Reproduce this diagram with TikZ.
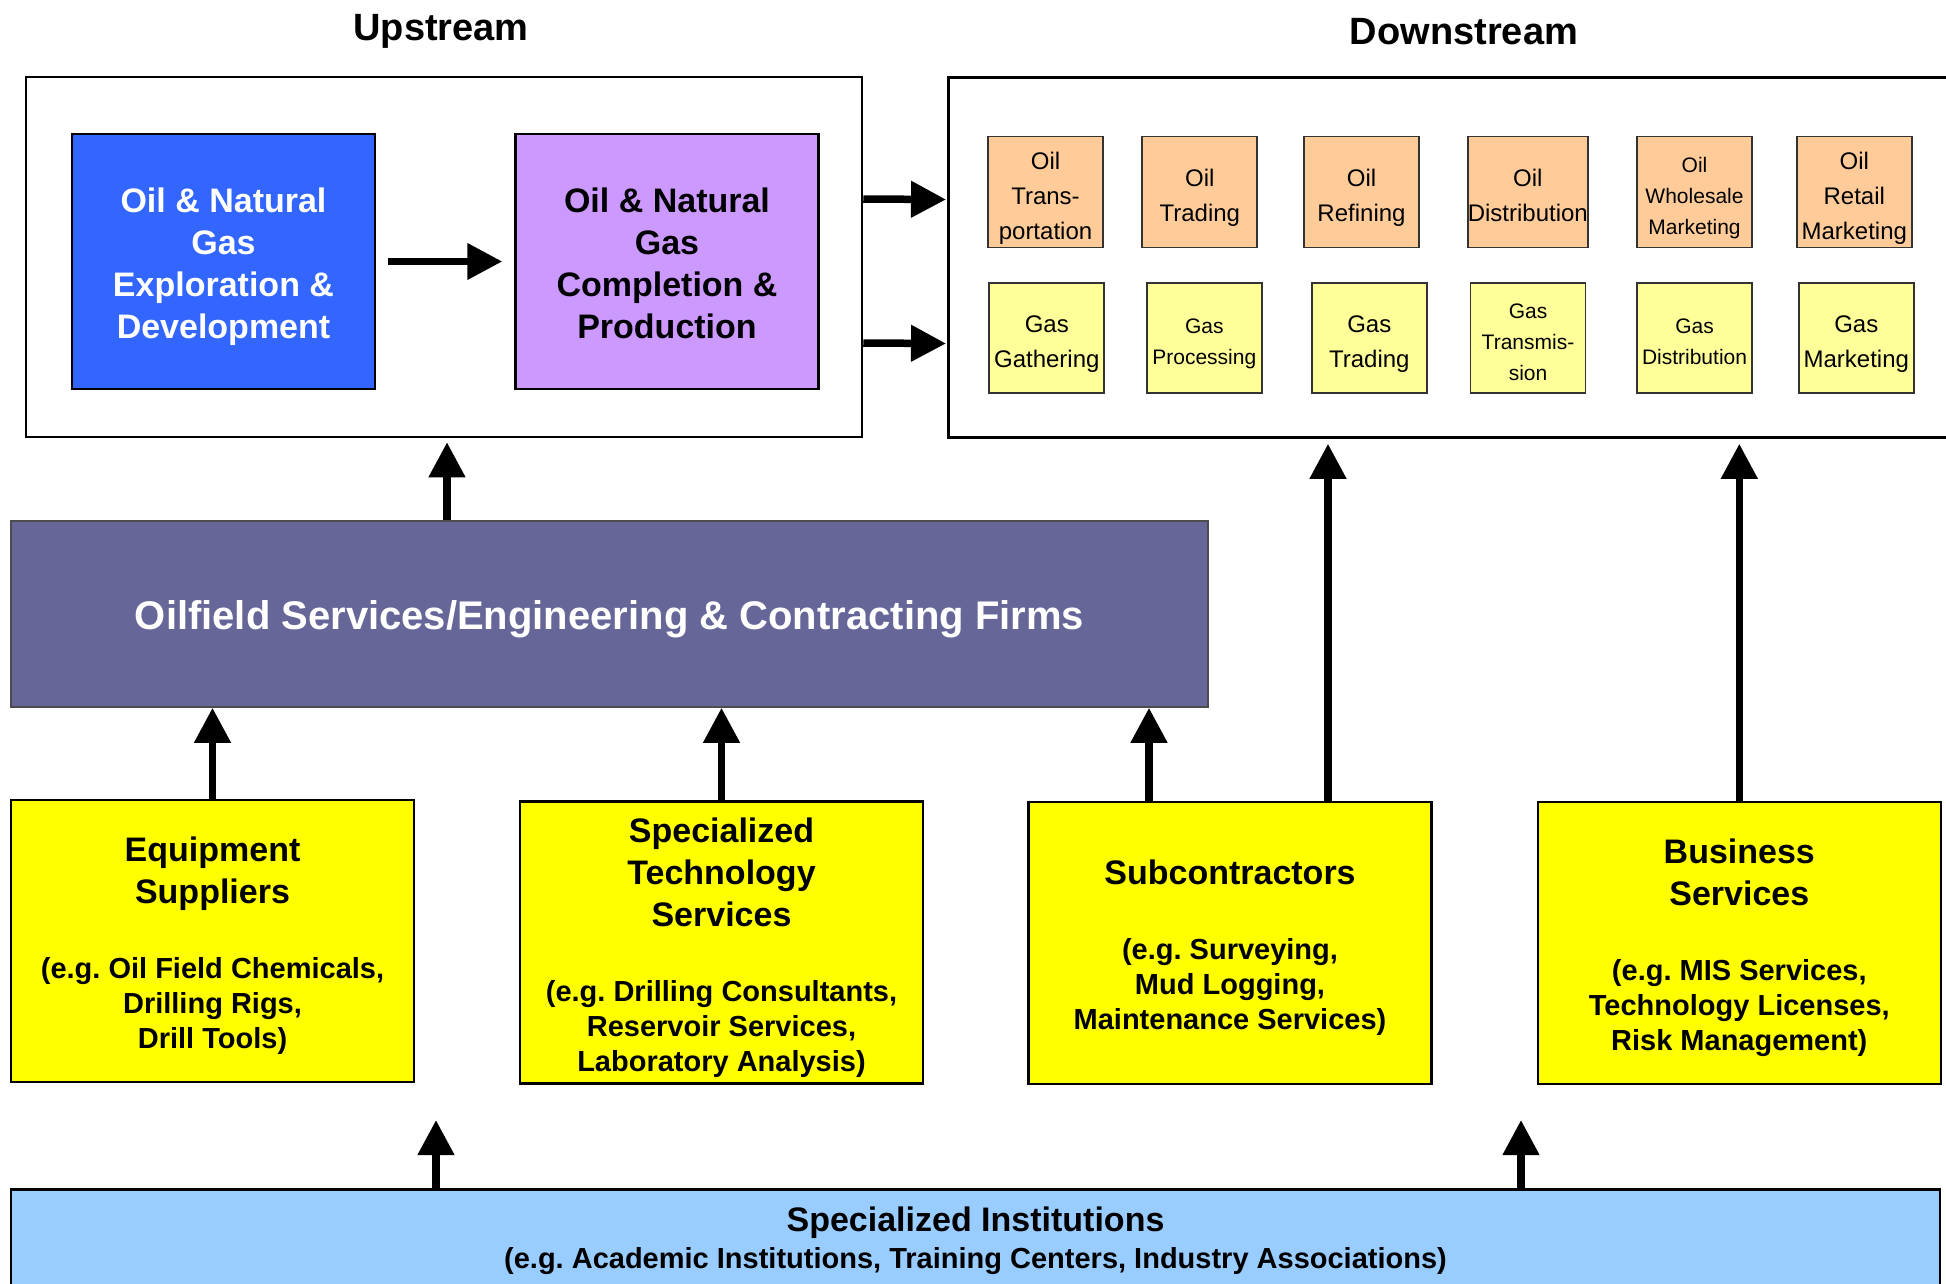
\documentclass[tikz,border=0pt]{standalone}
\usepackage{fontspec}
\setmainfont{Liberation Sans}
\usetikzlibrary{arrows.meta,calc}
\frenchspacing
\definecolor{deepblue}{RGB}{51,102,255}
\definecolor{lilac}{RGB}{204,153,255}
\definecolor{peach}{RGB}{255,204,153}
\definecolor{paleyellow}{RGB}{255,255,153}
\definecolor{brightyellow}{RGB}{255,255,0}
\definecolor{slate}{RGB}{102,102,153}
\definecolor{skyblue}{RGB}{153,204,255}
\newcommand{\fst}{\rule[-0.212em]{0pt}{\baselineskip}}
\newcommand{\boxhead}[1]{{\fontsize{34}{42}\selectfont #1}}
\tikzset{
  frame/.style={draw=black,line width=2.5pt,inner sep=0pt},
  stage/.style={draw=black,line width=2.5pt,inner sep=0pt,minimum width=303pt,minimum height=255pt,align=center,font=\fontsize{34}{42}\selectfont\bfseries},
  oilbox/.style={draw=black!80,line width=1.8pt,fill=peach,inner sep=0pt,minimum width=115pt,minimum height=111pt,align=center,font=\fontsize{24}{35}\selectfont},
  gasbox/.style={oilbox,fill=paleyellow,minimum height=110pt},
  smaller/.style={font=\fontsize{21}{31}\selectfont},
  supplier/.style={draw=black,line width=2.5pt,fill=brightyellow,inner sep=0pt,minimum width=403pt,minimum height=282pt,align=center,font=\fontsize{29}{35}\selectfont\bfseries},
  heading/.style={font=\fontsize{38}{46}\selectfont\bfseries},
  arr/.style={-{Triangle[length=35pt,width=35pt]},line width=7.5pt}
}

\begin{document}
\begin{tikzpicture}[x=1pt,y=-1pt]
\useasboundingbox (0,0) rectangle (1946,1283);
\node[heading] (uptitle) at (441,31) {Upstream};
\node[heading] (downtitle) at (1464,32) {Downstream};
\node[frame,minimum width=836pt,minimum height=360pt] (up) at (444,257) {};
\node[frame,anchor=west,minimum width=1043pt,minimum height=360pt] (down) at (947,257.5) {};
\node[stage,fill=deepblue,text=white] (explore) at (223.5,261.5) {\fst Oil \& Natural\\Gas\\Exploration \&\\\fst Development};
\node[stage,fill=lilac] (produce) at (667,261.5) {\fst Oil \& Natural\\Gas\\Completion \&\\\fst Production};
\node[oilbox] (oil1) at (1045.5,192) {\fst Oil\\Trans-\\\fst portation};
\node[oilbox] (oil2) at (1199.8,192) {\fst Oil\\\fst Trading};
\node[oilbox] (oil3) at (1361.5,192) {\fst Oil\\\fst Refining};
\node[oilbox] (oil4) at (1527.8,192) {\fst Oil\\\fst Distribution};
\node[oilbox,smaller] (oil5) at (1694.5,192) {\fst Oil\\Wholesale\\\fst Marketing};
\node[oilbox] (oil6) at (1854.3,192) {\fst Oil\\Retail\\\fst Marketing};
\node[gasbox] (gas1) at (1046.8,338) {\fst Gas\\\fst Gathering};
\node[gasbox,smaller] (gas2) at (1204.3,338) {\fst Gas\\\fst Processing};
\node[gasbox] (gas3) at (1369.3,338) {\fst Gas\\\fst Trading};
\node[gasbox,smaller] (gas4) at (1528,338) {\fst Gas\\Transmis-\\\fst sion};
\node[gasbox,smaller] (gas5) at (1694.5,338) {\fst Gas\\\fst Distribution};
\node[gasbox] (gas6) at (1856.3,338) {\fst Gas\\\fst Marketing};
\node[draw=black!70,line width=1.5pt,fill=slate,text=white,minimum width=1197pt,minimum height=186pt,font=\fontsize{40}{48}\selectfont\bfseries] (svc) at (609.5,614) {\fst Oilfield Services/Engineering \& Contracting Firms};
\node[supplier] (equip) at (212.5,941) {\boxhead{\fst Equipment}\\[7pt]\boxhead{Suppliers}\\[40pt](e.g. Oil Field Chemicals,\\Drilling Rigs,\\\fst Drill Tools)};
\node[supplier] (tech) at (721.5,942.5) {\boxhead{\fst Specialized}\\[7pt]\boxhead{Technology}\\[7pt]\boxhead{Services}\\[40pt](e.g. Drilling Consultants,\\Reservoir Services,\\\fst Laboratory Analysis)};
\node[supplier] (sub) at (1230,943) {\boxhead{\fst Subcontractors}\\[40pt](e.g. Surveying,\\Mud Logging,\\\fst Maintenance Services)};
\node[supplier] (biz) at (1739.3,943) {\boxhead{\fst Business}\\[7pt]\boxhead{Services}\\[40pt](e.g. MIS Services,\\Technology Licenses,\\\fst Risk Management)};
\node[draw=black,line width=2.5pt,fill=skyblue,anchor=north,inner sep=0pt,minimum width=1929pt,minimum height=103pt,align=center,font=\fontsize{29}{37}\selectfont\bfseries] (inst) at (975.5,1188) {\boxhead{Specialized Institutions}\\(e.g. Academic Institutions, Training Centers, Industry Associations)};
\coordinate (subl) at ($(sub.north)+(-81,0)$);
\coordinate (subr) at ($(sub.north)+(98,0)$);
\coordinate (instl) at (436,1120);
\coordinate (instr) at (1521,1120);
\draw[arr,shorten <=12pt,shorten >=12pt] (explore) -- (produce);
\draw[arr,shorten >=1pt] ([yshift=58pt]up.east) -- ([yshift=58pt]down.west);
\draw[arr,shorten >=1pt] ([yshift=-86pt]up.east) -- ([yshift=-86pt]down.west);
\draw[arr,shorten >=4pt] ($(up.south |- svc.north)+(3,0)$) -- ($(up.south)+(3,0)$);
\draw[arr] (equip.north) -- (equip.north |- svc.south);
\draw[arr] (tech.north) -- (tech.north |- svc.south);
\draw[arr] (subl) -- (subl |- svc.south);
\draw[arr,shorten >=5pt] (subr) -- (subr |- down.south);
\draw[arr,shorten >=5pt] (biz.north) -- (biz.north |- down.south);
\draw[arr] (inst.north -| instl) -- (instl);
\draw[arr] (inst.north -| instr) -- (instr);
\end{tikzpicture}
\end{document}
